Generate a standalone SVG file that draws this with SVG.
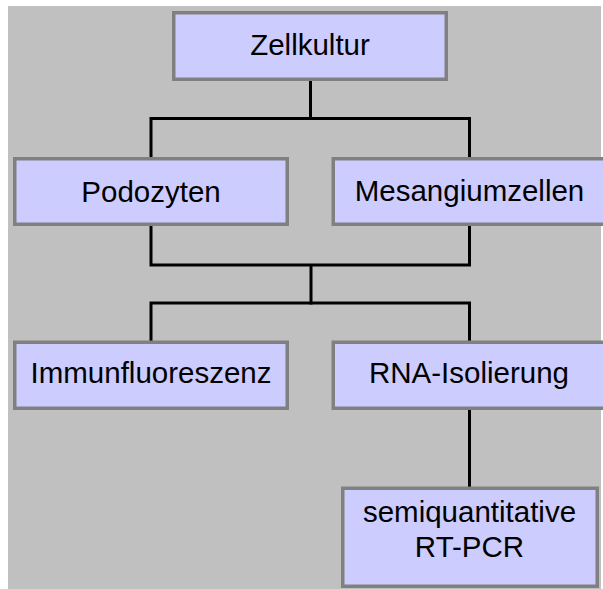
<svg xmlns="http://www.w3.org/2000/svg" width="603" height="589" viewBox="0 0 603 589">
  <style>
    .box { fill: #ccccff; stroke: #808080; stroke-width: 3.5; }
    .label { font-family: "Liberation Sans", Arial, sans-serif; font-size: 29.5px; fill: #000000; text-anchor: middle; }
    .wire { fill: none; stroke: #000000; stroke-width: 3; stroke-linecap: square; stroke-linejoin: miter; }
  </style>
  <rect x="0" y="0" width="603" height="589" fill="#ffffff"/>
  <rect x="8" y="6" width="593" height="583" fill="#c0c0c0"/>

  <g id="connectors">
    <path class="wire" d="M310.5,81 V118.5 M151,157 V118.5 H469.5 V157"/>
    <path class="wire" d="M151,226 V265 H469.5 V226 M311,265 V303"/>
    <path class="wire" d="M151,341 V303 H469.5 V341"/>
    <path class="wire" d="M469.5,410 V487"/>
  </g>

  <g id="zellkultur">
    <rect class="box" x="173.75" y="12.75" width="272.5" height="66.5"/>
    <text class="label" x="310" y="55">Zellkultur</text>
  </g>
  <g id="podozyten">
    <rect class="box" x="14.75" y="158.75" width="272.5" height="65.5"/>
    <text class="label" x="151" y="201.5">Podozyten</text>
  </g>
  <g id="mesangiumzellen">
    <rect class="box" x="333.25" y="158.75" width="272.5" height="65.5"/>
    <text class="label" x="469.5" y="201">Mesangiumzellen</text>
  </g>
  <g id="immunfluoreszenz">
    <rect class="box" x="14.75" y="342.25" width="272.5" height="66"/>
    <text class="label" x="151" y="383.3">Immunfluoreszenz</text>
  </g>
  <g id="rna-isolierung">
    <rect class="box" x="333.25" y="342.25" width="272.5" height="66"/>
    <text class="label" x="469" y="383.3">RNA-Isolierung</text>
  </g>
  <g id="rt-pcr">
    <rect class="box" x="342.75" y="488.25" width="254.5" height="98"/>
    <text class="label" x="469.5" y="521.7">semiquantitative</text>
    <text class="label" x="469.5" y="557.3">RT-PCR</text>
  </g>
</svg>
